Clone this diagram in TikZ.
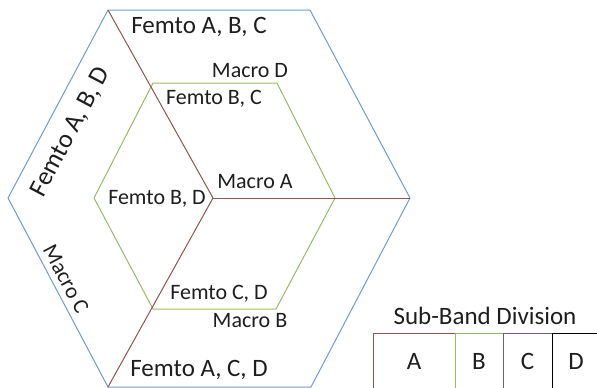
\documentclass[tikz,border=0pt]{standalone}
\usepackage{fontspec}
\setmainfont{Carlito}
\definecolor{hexblue}{RGB}{110,155,210}
\definecolor{hexbrown}{RGB}{140,85,80}
\definecolor{hexgreen}{RGB}{155,185,100}
\definecolor{bandpurple}{RGB}{110,90,150}
\definecolor{txt}{RGB}{30,30,30}
\begin{document}
\begin{tikzpicture}[x=1pt,y=-1pt,
  bigtxt/.style={text=txt,font=\fontsize{25}{30}\selectfont,inner sep=0pt},
  smalltxt/.style={text=txt,font=\fontsize{22}{26}\selectfont,inner sep=0pt},
  band/.style={draw=#1,line width=1pt,minimum height=56pt,inner sep=0pt,text=txt,font=\fontsize{25}{30}\selectfont},
  edge/.style={line width=1pt,line join=round}]
\useasboundingbox (0,0) rectangle (597,388);
\clip (0,0) rectangle (597,388);
% outer hexagon
\coordinate (O1) at (108,10);
\coordinate (O2) at (310,10);
\coordinate (O3) at (410,198);
\coordinate (O4) at (311,387);
\coordinate (O5) at (108,387);
\coordinate (O6) at (8,198);
% inner hexagon
\coordinate (I1) at (153,83);
\coordinate (I2) at (277,83);
\coordinate (I3) at (335,198);
\coordinate (I4) at (276,309);
\coordinate (I5) at (153,309);
\coordinate (I6) at (94,198);
\coordinate (C) at (213,198);
\draw[edge,hexblue] (O1) -- (O2) -- (O3) -- (O4) -- (O5) -- (O6) -- cycle;
\draw[edge,hexgreen] (I1) -- (I2) -- (I3) -- (I4) -- (I5) -- (I6) -- cycle;
\draw[edge,hexbrown] (C) -- (O1);
\draw[edge,hexbrown] (C) -- (O5);
\draw[edge,hexbrown] (C) -- (O3);
% labels
\node[bigtxt] (fabc) at (199,27) {Femto A, B, C};
\node[smalltxt] (md) at (250,71) {Macro D};
\node[smalltxt] (fbc) at (214,99) {Femto B, C};
\node[smalltxt] (ma) at (255,182) {Macro A};
\node[smalltxt] (fbd) at (157,199) {Femto B, D};
\node[smalltxt] (fcd) at (219,294) {Femto C, D};
\node[smalltxt] (mb) at (250,321) {Macro B};
\node[bigtxt] (facd) at (199,370) {Femto A, C, D};
\node[bigtxt,font=\fontsize{26}{30}\selectfont,rotate=62] (fabd) at (71,132) {Femto A, B, D};
\node[smalltxt,rotate=-62] (mc) at (66,279) {Macro C};
% sub-band division
\node[bigtxt] (sbd) at (485,316) {Sub-Band Division};
\node[band=hexbrown,minimum width=82pt] (bA) at (414,361) {A};
\node[band=hexgreen,minimum width=48pt] (bB) at (479,361) {B};
\node[band=bandpurple,minimum width=49pt] (bC) at (527.5,361) {C};
\node[band=black,minimum width=48pt] (bD) at (576,361) {D};
\end{tikzpicture}
\end{document}
